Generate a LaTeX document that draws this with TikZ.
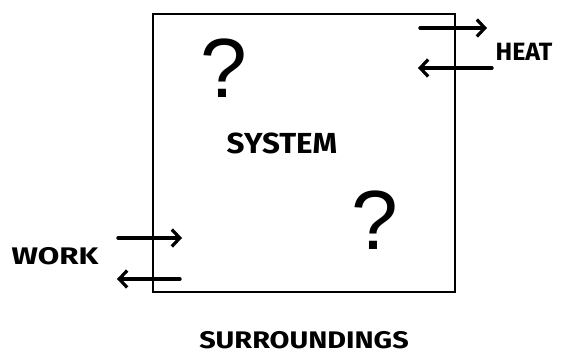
\documentclass[tikz,border=0pt]{standalone}
\usepackage{fontspec}
\setmainfont{Fira Sans}
\newfontfamily\qfont{Liberation Sans}
\usetikzlibrary{arrows.meta}
\tikzset{
  flow/.style={line width=3.4pt, line cap=round, -{Straight Barb[length=8pt,width=17pt,line width=3.2pt]}},
  lbl/.style={font=\bfseries, inner sep=0pt, anchor=center},
  qmark/.style={font=\qfont, inner sep=0pt, anchor=center}
}
\begin{document}
\begin{tikzpicture}[x=1pt,y=-1pt]
\useasboundingbox (0,0) rectangle (564,354);
\node[draw, line width=2.4pt, minimum width=302pt, minimum height=278pt, inner sep=0pt] (sys) at (304,153) {};
\node[lbl, font=\bfseries\fontsize{29}{29}\selectfont, xscale=1.08] (system) at (282,143) {SYSTEM};
\node[lbl, font=\bfseries\fontsize{25}{25}\selectfont] (heat) at (524,52) {HEAT};
\node[lbl, font=\bfseries\fontsize{24}{24}\selectfont, xscale=1.3] (work) at (55,256) {WORK};
\node[lbl, font=\bfseries\fontsize{24}{24}\selectfont, xscale=1.2] (sur) at (304,340) {SURROUNDINGS};
\node[qmark, font=\qfont\fontsize{84}{84}\selectfont] (q1) at (224,68) {?};
\node[qmark, font=\qfont\fontsize{84}{84}\selectfont] (q2) at (375,220) {?};
\coordinate (hi1) at (420,28); \coordinate (hi2) at (487,28);
\coordinate (ho1) at (492,68); \coordinate (ho2) at (418,68);
\coordinate (wi1) at (118,238); \coordinate (wi2) at (182,238);
\coordinate (wo1) at (180,279); \coordinate (wo2) at (117,279);
\draw[flow] (hi1) -- (hi2);
\draw[flow] (ho1) -- (ho2);
\draw[flow] (wi1) -- (wi2);
\draw[flow] (wo1) -- (wo2);
\end{tikzpicture}
\end{document}
